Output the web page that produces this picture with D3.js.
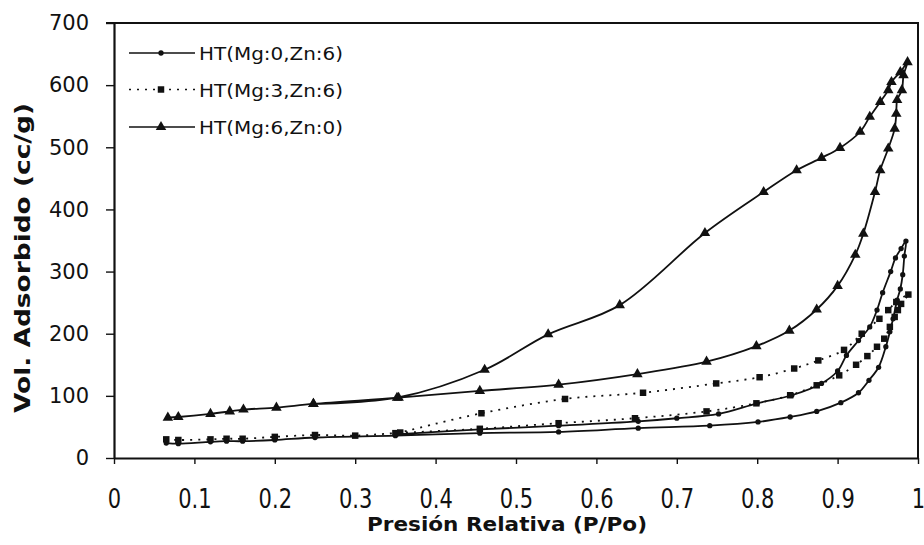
<!DOCTYPE html>
<html>
<head>
  <meta charset="utf-8">
  <title>Isotermas de adsorción</title>
  <style>
    body { margin: 0; padding: 0; background: white; }
    .tick-label { font-family: "DejaVu Sans", sans-serif; font-size: 21px; fill: #111; }
    .axis-title { font-family: "DejaVu Sans", sans-serif; font-weight: bold; font-size: 20px; fill: #111; }
    .legend text { font-family: "DejaVu Sans", sans-serif; font-size: 18px; fill: #111; }
    .serie { fill: none; stroke: #111; stroke-width: 1.8; }
  </style>
</head>
<body>
<div id="chart"></div>

<script src="https://d3js.org/d3.v7.min.js"></script>
<script>

// ####### TICKS & NAMES #######
var xTicks = [0, 0.1, 0.2, 0.3, 0.4, 0.5, 0.6, 0.7, 0.8, 0.9, 1]
var yTicks = [0, 100, 200, 300, 400, 500, 600, 700]
var seriesNames = ["HT(Mg:0,Zn:6)", "HT(Mg:3,Zn:6)", "HT(Mg:6,Zn:0)"]

// ####### HT(Mg:0,Zn:6): ADSORPTION THEN DESORPTION #######
var pMg0 = [0.065, 0.08, 0.12, 0.14, 0.16, 0.2, 0.25, 0.35, 0.455, 0.553, 0.652, 0.741, 0.801, 0.841, 0.874, 0.904, 0.926, 0.939, 0.951, 0.96, 0.965, 0.969, 0.974, 0.978, 0.981, 0.983, 0.985,
            0.979, 0.972, 0.966, 0.956, 0.949, 0.94, 0.926, 0.911, 0.9, 0.88, 0.843, 0.8, 0.752, 0.7, 0.652, 0.553, 0.455, 0.35]
var vMg0 = [24, 23, 26, 27, 27, 29, 33, 36, 40, 42, 48, 52, 58, 66, 75, 89, 105, 125, 146, 179, 203, 224, 254, 272, 295, 325, 349,
            337, 322, 300, 266, 238, 211, 189, 165, 140, 120, 101, 88, 71, 64, 59, 52, 46, 38]

// ####### HT(Mg:3,Zn:6) #######
var pMg3 = [0.065, 0.08, 0.12, 0.14, 0.16, 0.2, 0.25, 0.3, 0.35, 0.455, 0.553, 0.648, 0.737, 0.799, 0.841, 0.874, 0.902, 0.923, 0.937, 0.949, 0.958, 0.965, 0.971, 0.975, 0.979, 0.988,
            0.973, 0.963, 0.952, 0.93, 0.908, 0.876, 0.846, 0.803, 0.749, 0.658, 0.561, 0.457, 0.356]
var vMg3 = [30, 29, 30, 31, 31, 34, 37, 36, 40, 47, 56, 64, 75, 88, 101, 117, 133, 150, 164, 179, 192, 211, 227, 238, 248, 263,
            251, 238, 224, 200, 174, 157, 144, 130, 120, 105, 95, 72, 41]

// ####### HT(Mg:6,Zn:0) #######
var pMg6 = [0.067, 0.08, 0.12, 0.144, 0.161, 0.202, 0.248, 0.354, 0.455, 0.553, 0.651, 0.737, 0.799, 0.84, 0.874, 0.9, 0.922, 0.932, 0.9465, 0.953, 0.963, 0.971, 0.973, 0.974, 0.98, 0.982, 0.987,
            0.978, 0.967, 0.963, 0.953, 0.94, 0.928, 0.903, 0.88, 0.849, 0.808, 0.735, 0.629, 0.54, 0.461, 0.352, 0.248]
var vMg6 = [65, 66, 71, 75, 78, 81, 87, 97, 108, 118, 135, 155, 180, 205, 239, 277, 327, 361, 428, 463, 498, 530, 554, 576, 592, 616, 637,
            621, 605, 592, 573, 549, 525, 499, 483, 463, 428, 362, 246, 199, 142, 97, 87]

// ####### SIZE OF THE SVG & PLOT BOX #######
var width = 924,
    height = 545,
    plotLeft = 114, plotRight = 918, plotTop = 23, plotBottom = 458

var svg = d3.select("#chart").append("svg")
    .attr("width", width)
    .attr("height", height)

var x = d3.scaleLinear().domain([0, 1]).range([plotLeft, plotRight])
var y = d3.scaleLinear().domain([0, 700]).range([plotBottom, plotTop])

// ####### FRAME (TOP & RIGHT) #######
svg.append("path")
    .attr("d", "M" + (plotLeft - 8) + "," + plotTop + "H" + plotRight + "V" + plotBottom)
    .attr("fill", "none").attr("stroke", "#111").attr("stroke-width", 2)

// ####### Y AXIS #######
var yAxis = svg.append("g")
    .attr("transform", "translate(" + plotLeft + ",0)")
    .call(d3.axisLeft(y).tickValues(yTicks).tickSize(8).tickSizeOuter(0).tickPadding(17).tickFormat(d3.format("d")))
yAxis.select(".domain").attr("stroke", "#111").attr("stroke-width", 2.2)
yAxis.selectAll("line").attr("stroke", "#111").attr("stroke-width", 1.4)
yAxis.selectAll("text").attr("class", "tick-label").attr("fill", "#111")

// ####### X AXIS #######
var xAxis = svg.append("g")
    .attr("transform", "translate(0," + plotBottom + ")")
    .call(d3.axisBottom(x).tickValues(xTicks).tickSize(6).tickSizeOuter(0).tickPadding(0).tickFormat(function (d) { return d3.format("")(+d.toFixed(1)) }))
xAxis.select(".domain").attr("stroke", "#111").attr("stroke-width", 2.2)
xAxis.selectAll("line").attr("stroke", "#111").attr("stroke-width", 1.4)
xAxis.selectAll("text")
    .attr("class", "tick-label")
    .attr("y", 0).attr("dy", null)
    .attr("transform", "translate(0,50) scale(1,1.3)")

// ####### AXIS TITLES #######
svg.append("text")
    .attr("class", "axis-title")
    .attr("x", 367).attr("y", 531)
    .attr("textLength", 280).attr("lengthAdjust", "spacingAndGlyphs")
    .text("Presión Relativa (P/Po)")

svg.append("text")
    .attr("class", "axis-title")
    .attr("transform", "translate(30,413) rotate(-90)")
    .attr("textLength", 310).attr("lengthAdjust", "spacingAndGlyphs")
    .style("font-size", "21px")
    .text("Vol. Adsorbido (cc/g)")

// ####### SERIES #######
var series = [
  { name: seriesNames[0], p: pMg0, v: vMg0, symbol: d3.symbolCircle, size: 22, dash: null },
  { name: seriesNames[1], p: pMg3, v: vMg3, symbol: d3.symbolSquare, size: 42, dash: "2,6" },
  { name: seriesNames[2], p: pMg6, v: vMg6, symbol: d3.symbolTriangle, size: 48, dash: null }
]

var line = d3.line()
    .x(function (d) { return x(d[0]) })
    .y(function (d) { return y(d[1]) })
    .curve(d3.curveCatmullRom.alpha(0.5))

series.forEach(function (s) {
  var pts = s.p.map(function (p, i) { return [p, s.v[i]] })

  svg.append("path")
      .datum(pts)
      .attr("class", "serie")
      .attr("stroke-dasharray", s.dash)
      .attr("d", line)

  svg.append("g").selectAll("path")
      .data(pts).enter()
      .append("path")
      .attr("transform", function (d) { return "translate(" + x(d[0]) + "," + y(d[1]) + ")" })
      .attr("d", d3.symbol().type(s.symbol).size(s.size))
      .attr("fill", "#111")
})

// ####### LEGEND #######
var legend = svg.append("g").attr("class", "legend")
    .selectAll("g")
    .data(series).enter()
    .append("g")
    .attr("transform", function (d, i) { return "translate(0," + [53, 89.5, 127][i] + ")" })

legend.append("line")
    .attr("x1", 129).attr("x2", 195)
    .attr("stroke", "#111").attr("stroke-width", 1.6)
    .attr("stroke-dasharray", function (d) { return d.dash })

legend.append("path")
    .attr("transform", "translate(161,0)")
    .attr("d", function (d) { return d3.symbol().type(d.symbol).size(d.size)() })
    .attr("fill", "#111")

legend.append("text")
    .attr("x", 199).attr("y", 7)
    .attr("textLength", 144).attr("lengthAdjust", "spacingAndGlyphs")
    .text(function (d) { return d.name })

</script>
</body>
</html>
